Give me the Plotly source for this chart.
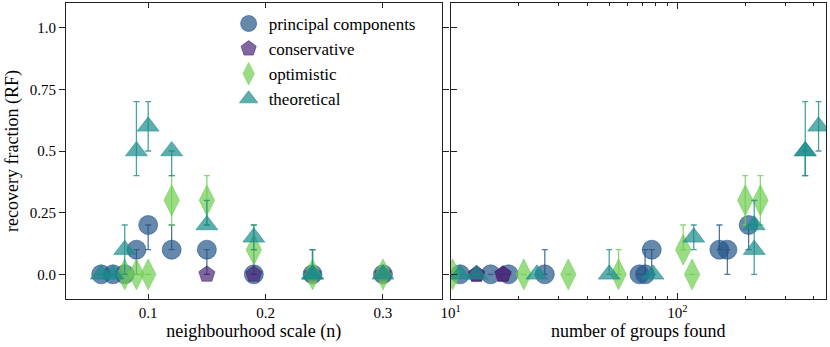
import plotly.graph_objects as go

# principal components
pc_scale = [0.06, 0.07, 0.08, 0.09, 0.1, 0.12, 0.15, 0.19, 0.24, 0.3]
pc_groups = [68, 18, 15, 166, 206, 153, 77, 72, 26, 11]
pc_rf = [0, 0, 0, 0.1, 0.2, 0.1, 0.1, 0, 0, 0]
pc_up = [0, 0, 0, 0, 0, 0.1, 0, 0.1, 0.1, 0]
pc_dn = [0, 0, 0, 0.1, 0.1, 0, 0.1, 0, 0, 0]

# conservative
cons_scale = [0.15, 0.19, 0.24, 0.3]
cons_groups = [13, 17, 13, 17]
cons_rf = [0, 0, 0, 0]
cons_up = [0, 0, 0, 0]
cons_dn = [0, 0, 0, 0]

# optimistic
opt_scale = [0.08, 0.09, 0.1, 0.12, 0.15, 0.19, 0.24, 0.3]
opt_groups = [21, 33, 116, 232, 199, 106, 55, 10.2]
opt_rf = [0, 0, 0, 0.3, 0.3, 0.1, 0, 0]
opt_up = [0, 0, 0, 0.1, 0.1, 0.1, 0.1, 0]
opt_dn = [0, 0, 0, 0.1, 0.1, 0, 0, 0]

# theoretical
theo_scale = [0.06, 0.07, 0.08, 0.09, 0.1, 0.12, 0.15, 0.19, 0.24, 0.24, 0.3]
theo_groups = [11, 13, 218, 366, 419, 366, 218, 118, 50, 78, 24]
theo_rf = [0, 0, 0.1, 0.5, 0.6, 0.5, 0.2, 0.15, 0, 0, 0]
theo_up = [0, 0, 0.1, 0.2, 0.1, 0, 0.1, 0.05, 0.1, 0, 0]
theo_dn = [0, 0, 0.1, 0.1, 0.1, 0.1, 0, 0.05, 0, 0, 0]

yticks = [0, 0.25, 0.5, 0.75, 1.0]
ytick_text = ["0.0", "0.25", "0.5", "0.75", "1.0"]
minor_ticks = [20, 30, 40, 50, 60, 70, 80, 90, 200, 300, 400]

series = [
    ("principal components", pc_scale, pc_groups, pc_rf, pc_up, pc_dn, "circle", 19, (35, 85, 135)),
    ("conservative", cons_scale, cons_groups, cons_rf, cons_up, cons_dn, "pentagon", 17, (72, 40, 120)),
    ("optimistic", opt_scale, opt_groups, opt_rf, opt_up, opt_dn, "diamond-tall", 22, (110, 205, 80)),
    ("theoretical", theo_scale, theo_groups, theo_rf, theo_up, theo_dn, "triangle-up", 19, (25, 140, 138)),
]

fig = go.Figure()
for name, sc, gr, rf, up, dn, sym, size, c in series:
    col = "rgba(%d,%d,%d,0.7)" % c
    err = dict(type="data", symmetric=False, array=up, arrayminus=dn,
               color="rgba(%d,%d,%d,0.8)" % c, thickness=1.3, width=3)
    mk = dict(symbol=sym, size=size, color=col, line=dict(width=0.8, color=col))
    fig.add_trace(go.Scatter(x=sc, y=rf, mode="markers", name=name, marker=mk,
                             error_y=err, xaxis="x", yaxis="y", legendgroup=name))
    fig.add_trace(go.Scatter(x=gr, y=rf, mode="markers", name=name, marker=mk,
                             error_y=err, xaxis="x2", yaxis="y2", legendgroup=name,
                             showlegend=False))

line = dict(showline=True, linecolor="#222", linewidth=1, showgrid=False, zeroline=False,
            tickcolor="#222")

fig.update_layout(
    width=830, height=347,
    margin=dict(l=66, r=4, t=3, b=48),
    paper_bgcolor="white", plot_bgcolor="white",
    font=dict(family="Liberation Serif", size=15, color="black"),
    xaxis=dict(domain=[0, 0.4943], range=[0.03, 0.35], tickvals=[0.1, 0.2, 0.3],
               ticktext=["0.1", "0.2", "0.3"], ticks="inside", ticklen=5, mirror="ticks",
               title=dict(text="neighbourhood scale (n)", standoff=4), anchor="y", **line),
    yaxis=dict(range=[-0.1, 1.1], tickvals=yticks, ticktext=ytick_text, ticks="outside",
               ticklen=6, mirror="ticks", anchor="x",
               title=dict(text="recovery fraction (RF)", standoff=6), **line),
    xaxis2=dict(domain=[0.5062, 1], type="log", range=[1, 2.655], tickvals=[10, 100],
                ticktext=["10<sup>1</sup>", "10<sup>2</sup>"], ticks="inside", ticklen=6,
                minor=dict(tickmode="array", tickvals=minor_ticks, ticks="inside", ticklen=3,
                           tickcolor="#222"),
                mirror="ticks", anchor="y2",
                title=dict(text="number of groups found", standoff=4), **line),
    yaxis2=dict(range=[-0.1, 1.1], tickvals=yticks, showticklabels=False, ticks="inside",
                ticklen=6, mirror=True, anchor="x2", **line),
    legend=dict(x=0.214, y=0.99, xanchor="left", yanchor="top", bgcolor="rgba(0,0,0,0)",
                itemsizing="trace", tracegroupgap=0, font=dict(size=17)),
    showlegend=True,
)

fig.write_html("out.html", config={"displayModeBar": False},
               post_script="document.body.style.margin='0';")
